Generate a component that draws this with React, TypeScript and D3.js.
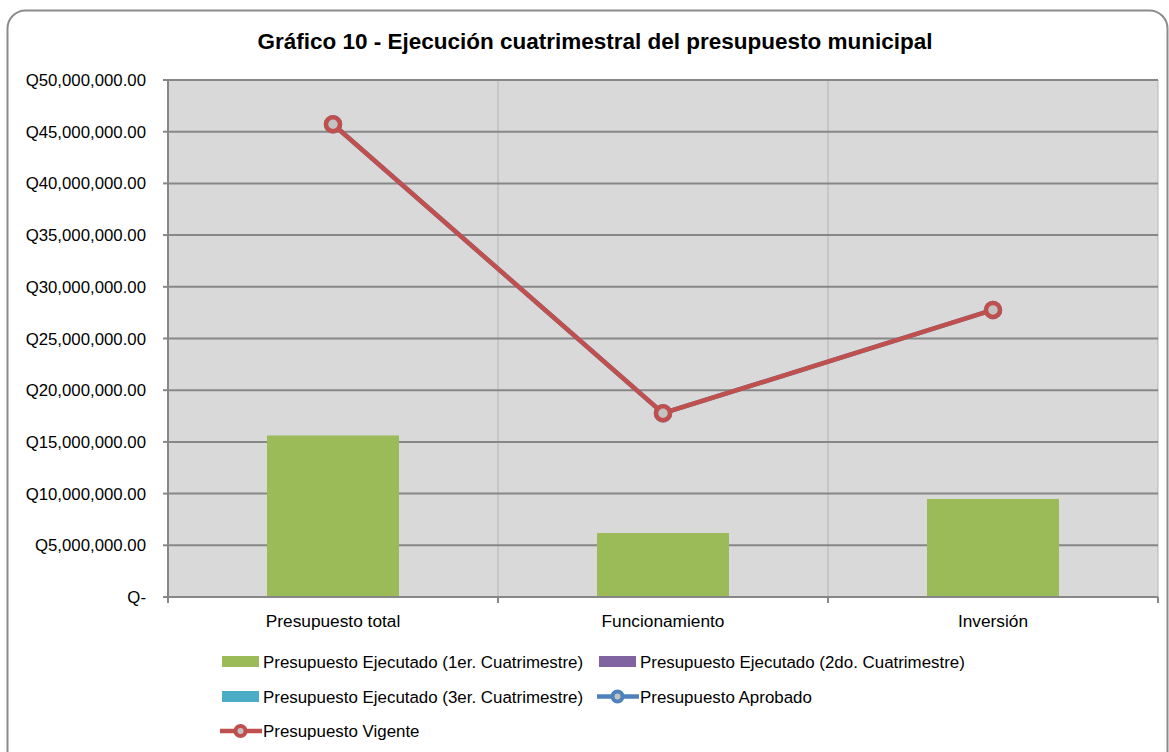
import React from "react";
import * as d3 from "d3";

const categories = ["Presupuesto total", "Funcionamiento", "Inversión"];
const ejecutado1 = [15620000, 6190000, 9480000];
const ejecutado2 = [0, 0, 0];
const ejecutado3 = [0, 0, 0];
const aprobado = [45720000, 17770000, 27760000];
const vigente = [45720000, 17770000, 27760000];
const yTicks = [0, 5e6, 10e6, 15e6, 20e6, 25e6, 30e6, 35e6, 40e6, 45e6, 50e6];

const title = "Gráfico 10 - Ejecución cuatrimestral del presupuesto municipal";
const legendItems = [
  { label: "Presupuesto Ejecutado (1er. Cuatrimestre)", color: "#9bbb59", type: "bar" },
  { label: "Presupuesto Ejecutado (2do. Cuatrimestre)", color: "#8064a2", type: "bar" },
  { label: "Presupuesto Ejecutado (3er. Cuatrimestre)", color: "#4bacc6", type: "bar" },
  { label: "Presupuesto Aprobado", color: "#4f81bd", type: "line" },
  { label: "Presupuesto Vigente", color: "#c0504d", type: "line" },
];

const FONT = "'Liberation Sans', Arial, sans-serif";

function fmtQ(v: number) {
  if (v === 0) return "Q-";
  return "Q" + d3.format(",.2f")(v);
}

export default function App() {
  const W = 1169, H = 752;
  const left = 168, right = 1158, top = 80, bottom = 597;
  const x = d3.scaleBand<string>().domain(categories).range([left, right]).paddingInner(0).paddingOuter(0);
  const y = d3.scaleLinear().domain([0, 50e6]).range([bottom, top]);
  const bw = x.bandwidth() * 0.4;
  const cx = (i: number) => (x(categories[i]) as number) + x.bandwidth() / 2;
  const lineGen = d3.line<number>().x((_, i) => cx(i)).y((d) => y(d));

  const legendPos = [
    { x: 222, y: 661.5 },
    { x: 599, y: 661.5 },
    { x: 222, y: 696.5 },
    { x: 599, y: 696.5 },
    { x: 222, y: 731 },
  ];

  return (
    <svg width={W} height={H} style={{ position: "absolute", left: 0, top: 0 }}>
      <rect x={0} y={0} width={W} height={H} fill="#ffffff" />
      <rect x={7.5} y={10.5} width={1160} height={780} rx={18} ry={18} fill="#ffffff" stroke="#8c8c8c" strokeWidth={2} />
      <text x={595} y={49} textAnchor="middle" fontFamily={FONT} fontWeight="bold" fontSize={22.5} fill="#000">{title}</text>
      <rect x={left} y={top} width={right - left} height={bottom - top} fill="#d9d9d9" />
      {categories.slice(1).map((c) => (
        <line key={c} x1={x(c)} x2={x(c)} y1={top} y2={bottom} stroke="#b4b4b4" strokeWidth={1} />
      ))}
      <line x1={right} x2={right} y1={top} y2={bottom} stroke="#b4b4b4" strokeWidth={1} />
      {yTicks.map((t) => (
        <g key={t}>
          {t > 0 && <line x1={left} x2={right} y1={y(t)} y2={y(t)} stroke="#878787" strokeWidth={2} />}
          <line x1={163} x2={left} y1={y(t)} y2={y(t)} stroke="#878787" strokeWidth={2} />
          <text x={146} y={y(t) + 6} textAnchor="end" fontFamily={FONT} fontSize={16.8} fill="#000">{fmtQ(t)}</text>
        </g>
      ))}
      {categories.map((c, i) => (
        <g key={c}>
          <rect x={cx(i) - bw / 2} y={y(ejecutado1[i])} width={bw} height={bottom - y(ejecutado1[i])} fill="#9bbb59" />
          {ejecutado2[i] > 0 && <rect x={cx(i) - bw / 2} y={y(ejecutado2[i])} width={bw} height={bottom - y(ejecutado2[i])} fill="#8064a2" />}
          {ejecutado3[i] > 0 && <rect x={cx(i) - bw / 2} y={y(ejecutado3[i])} width={bw} height={bottom - y(ejecutado3[i])} fill="#4bacc6" />}
          <text x={cx(i)} y={627} textAnchor="middle" fontFamily={FONT} fontSize={17.3} fill="#000">{c}</text>
        </g>
      ))}
      <line x1={left} x2={left} y1={top} y2={bottom + 6} stroke="#878787" strokeWidth={2} />
      <line x1={left - 5} x2={right} y1={bottom} y2={bottom} stroke="#878787" strokeWidth={2} />
      {[...categories.map((c) => x(c) as number), right].map((px, i) => (
        <line key={i} x1={px} x2={px} y1={bottom} y2={bottom + 6} stroke="#878787" strokeWidth={2} />
      ))}
      <path d={lineGen(aprobado) || ""} fill="none" stroke="#4f81bd" strokeWidth={4.5} />
      {aprobado.map((v, i) => (
        <circle key={"a" + i} cx={cx(i)} cy={y(v)} r={7} fill="#c3c3c3" stroke="#4f81bd" strokeWidth={4.5} />
      ))}
      <path d={lineGen(vigente) || ""} fill="none" stroke="#c0504d" strokeWidth={4.5} />
      {vigente.map((v, i) => (
        <circle key={"v" + i} cx={cx(i)} cy={y(v)} r={7} fill="#c3c3c3" stroke="#c0504d" strokeWidth={4.5} />
      ))}
      {legendItems.map((it, i) => {
        const p = legendPos[i];
        return (
          <g key={it.label}>
            {it.type === "bar" ? (
              <rect x={p.x} y={p.y - 5.5} width={37} height={11} fill={it.color} />
            ) : (
              <g>
                <line x1={p.x - 2} x2={p.x + 40} y1={p.y} y2={p.y} stroke={it.color} strokeWidth={4.5} />
                <circle cx={p.x + 18.5} cy={p.y} r={5} fill="#c3c3c3" stroke={it.color} strokeWidth={4} />
              </g>
            )}
            <text x={p.x + 41} y={p.y + 6} fontFamily={FONT} fontSize={16.9} fill="#000">{it.label}</text>
          </g>
        );
      })}
    </svg>
  );
}
